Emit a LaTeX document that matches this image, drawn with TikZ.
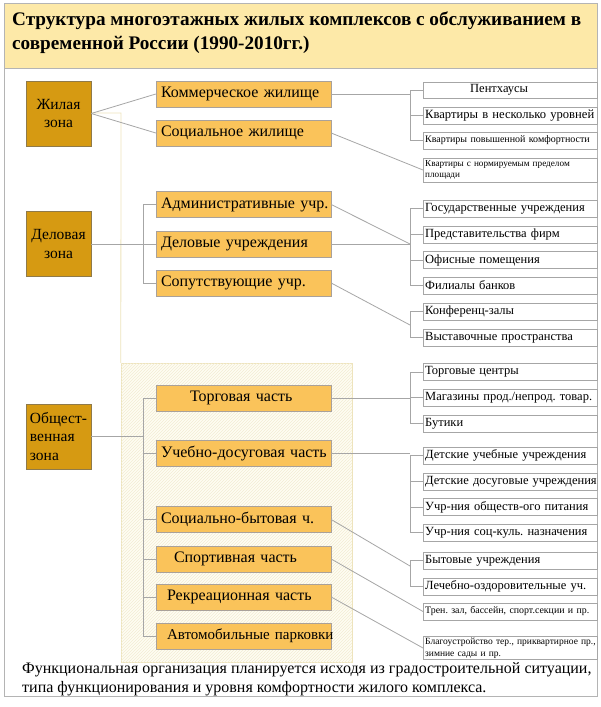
\documentclass[tikz,border=0pt]{standalone}
\usepackage{fontspec}
\setmainfont{Liberation Serif}
\usetikzlibrary{patterns}
\definecolor{titlefill}{HTML}{FDE9A8}
\definecolor{zonefill}{HTML}{D69A12}
\definecolor{zoneborder}{HTML}{8F7A4A}
\definecolor{midfill}{HTML}{FAC35A}
\definecolor{midborder}{HTML}{A9A19A}
\definecolor{linegray}{HTML}{A6A6A6}
\definecolor{panelfill}{HTML}{FFFDF3}
\definecolor{panelborder}{HTML}{EEE4BC}
\definecolor{hatchcol}{HTML}{F2ECD4}
\definecolor{framegray}{HTML}{B4B4B4}
\frenchspacing
\begin{document}
\begin{tikzpicture}[x=1pt,y=-1pt,
  zone/.style={draw=zoneborder,fill=zonefill,minimum width=65pt,minimum height=65pt,inner sep=0pt,font=\fontsize{15.5}{18.5}\selectfont,align=center},
  mid/.style={draw=midborder,fill=midfill,minimum width=175pt,minimum height=26pt,inner sep=0pt,font=\fontsize{16}{19}\selectfont},
  midl/.style={mid,text width=165pt,align=left,inner xsep=5pt},
  leaf/.style={draw=linegray,fill=white,anchor=west,text width=170pt,inner xsep=2pt,inner ysep=0pt,minimum height=17pt,align=left,font=\fontsize{12.5}{14}\selectfont},
  conn/.style={draw=linegray,line width=0.8pt},
  panelbox/.style={draw=panelborder,fill=panelfill,postaction={pattern=north east lines,pattern color=hatchcol},minimum width=231pt,minimum height=299pt,inner sep=0pt},
]
\useasboundingbox (0,0) rectangle (600,707);
\fill[white] (0,0) rectangle (600,707);
% frame and title
\draw[framegray,line width=0.8pt] (4,3) rectangle (597,696);
\node[draw=framegray,fill=titlefill,line width=0.8pt,minimum width=593pt,minimum height=65pt,anchor=north west,inner sep=0pt] (titlebox) at (4,3) {};
\node[anchor=north west,align=left,inner sep=0pt,font=\fontsize{19.2}{24}\selectfont\bfseries] (title) at (12,12)
  {Структура многоэтажных жилых комплексов с обслуживанием в\\современной России (1990-2010гг.)};
% panel
\node[panelbox] (panel) at (236.5,512.5) {};
\draw[panelborder,line width=0.8pt] (91,113) -- (121,113) -- (panel.north west);
% zones
\node[zone] (z1) at (58.5,113.5) {Жилая\\зона};
\node[zone] (z2) at (58.5,244) {Деловая\\зона};
\node[zone,align=left] (z3) at (58.5,436.5) {Общест-\\венная\\зона};
% middle boxes
\node[midl] (M1) at (243.5,94) {\mbox{Коммерческое жилище}};
\node[midl] (M2) at (243.5,133) {\mbox{Социальное жилище}};
\node[midl] (M3) at (243.5,204.5) {\mbox{Административные учр.}};
\node[midl] (M4) at (243.5,244) {\mbox{Деловые учреждения}};
\node[midl] (M5) at (243.5,283) {\mbox{Сопутствующие учр.}};
\node[midl] (M6) at (243.5,398) {\hspace*{29pt}Торговая часть};
\node[midl] (M7) at (243.5,453.5) {\mbox{Учебно-досуговая часть}};
\node[midl] (M8) at (243.5,519.5) {\mbox{Социально-бытовая ч.}};
\node[midl] (M9) at (243.5,559) {\hspace*{13pt}Спортивная часть};
\node[midl] (M10) at (243.5,597) {\hspace*{6pt}Рекреационная часть};
\node[midl,font=\fontsize{15}{18}\selectfont] (M11) at (243.5,636) {\hspace*{6pt}\mbox{Автомобильные парковки}};
% leaf boxes
\node[leaf,minimum height=16pt] (L1) at (423,90) {\hspace*{45pt}Пентхаусы};
\node[leaf,font=\fontsize{12.6}{15}\selectfont] (L2) at (423,115.5) {\mbox{Квартиры в несколько уровней}};
\node[leaf,font=\fontsize{10}{12}\selectfont] (L3) at (423,140.5) {\mbox{Квартиры повышенной комфортности}};
\node[leaf,font=\fontsize{9.2}{11.5}\selectfont,minimum height=24pt] (L4) at (423,170) {Квартиры с нормируемым пределом\\площади};
\node[leaf] (L5) at (423,208.5) {Государственные учреждения};
\node[leaf] (L6) at (423,234.5) {Представительства фирм};
\node[leaf] (L7) at (423,260) {Офисные помещения};
\node[leaf] (L8) at (423,285.5) {Филиалы банков};
\node[leaf] (L9) at (423,311.5) {Конференц-залы};
\node[leaf] (L10) at (423,337.5) {Выставочные пространства};
\node[leaf] (L11) at (423,372) {Торговые центры};
\node[leaf] (L12) at (423,397.5) {\mbox{Магазины прод./непрод. товар.}};
\node[leaf] (L13) at (423,423.5) {Бутики};
\node[leaf] (L14) at (423,455.5) {Детские учебные учреждения};
\node[leaf] (L15) at (423,481.5) {\mbox{Детские досуговые учреждения}};
\node[leaf] (L16) at (423,507) {\mbox{Учр-ния обществ-ого питания}};
\node[leaf] (L17) at (423,532.5) {\mbox{Учр-ния соц-куль. назначения}};
\node[leaf] (L18) at (423,560.5) {Бытовые учреждения};
\node[leaf] (L19) at (423,586.5) {\mbox{Лечебно-оздоровительные уч.}};
\node[leaf,font=\fontsize{9.9}{12}\selectfont] (L20) at (423,611.5) {\mbox{Трен. зал, бассейн, спорт.секции и пр.}};
\node[leaf,font=\fontsize{9.5}{12}\selectfont,minimum height=23pt] (L21) at (423,648) {\mbox{Благоустройство тер., приквартирное пр.,}\\зимние сады и пр.};
% trunk coordinates
\coordinate (lt) at (143,0);
\coordinate (rt) at (410,0);
\coordinate (j2b) at (410,325);
\coordinate (j3c) at (410,566);
% left connectors
\draw[conn] (z1.east) -- (M1.west);
\draw[conn] (z1.east) -- (M2.west);
\draw[conn] (z2.east) -- (M4.west);
\draw[conn] (M3.west) -- (M3.west -| lt) -- (M5.west -| lt) -- (M5.west);
\draw[conn] (z3.east) -- (z3.east -| lt);
\draw[conn] (M6.west) -- (M6.west -| lt) -- (M11.west -| lt) -- (M11.west);
\foreach \m in {M7,M8,M9,M10} \draw[conn] (\m.west) -- (\m.west -| lt);
% right connectors
\draw[conn] (L1.west) -- (L1.west -| rt) -- (L3.west -| rt) -- (L3.west);
\draw[conn] (L2.west) -- (L2.west -| rt);
\draw[conn] (M1.east) -- (M1.east -| rt);
\draw[conn] (M2.east) -- (L4.west);
\draw[conn] (L5.west) -- (L5.west -| rt) -- (L8.west -| rt) -- (L8.west);
\foreach \l in {L6,L7} \draw[conn] (\l.west) -- (\l.west -| rt);
\draw[conn] (M4.east) -- (M4.east -| rt);
\draw[conn] (M3.east) -- (M4.east -| rt);
\draw[conn] (L9.west) -- (L9.west -| rt) -- (L10.west -| rt) -- (L10.west);
\draw[conn] (M5.east) -- (j2b);
\draw[conn] (L11.west) -- (L11.west -| rt) -- (L13.west -| rt) -- (L13.west);
\draw[conn] (L12.west) -- (L12.west -| rt);
\draw[conn] (M6.east) -- (M6.east -| rt);
\draw[conn] (L14.west) -- (L14.west -| rt) -- (L17.west -| rt) -- (L17.west);
\foreach \l in {L15,L16} \draw[conn] (\l.west) -- (\l.west -| rt);
\draw[conn] (M7.east) -- (M7.east -| rt);
\draw[conn] (L18.west) -- (L18.west -| rt) -- (L19.west -| rt) -- (L19.west);
\draw[conn] (M8.east) -- (j3c);
\draw[conn] (M9.east) -- (L20.west);
\draw[conn] (M10.east) -- (L21.west);
% footer
\node[anchor=base west,inner sep=0pt,font=\fontsize{16}{19}\selectfont] (foot1) at (22,673) {Функциональная организация планируется исходя из градостроительной ситуации,};
\node[anchor=base west,inner sep=0pt,font=\fontsize{16}{19}\selectfont] (foot2) at (22,692) {типа функционирования и уровня комфортности жилого комплекса.};
\end{tikzpicture}
\end{document}
